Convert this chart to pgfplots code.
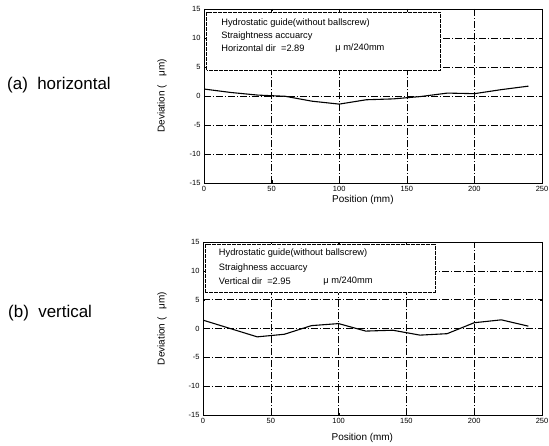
\documentclass[border=0pt]{standalone}
\usepackage{fontspec}
\setmainfont{Liberation Sans}
\usepackage{pgfplots}
\pgfplotsset{compat=1.18}

\pgfplotsset{
  devstyle/.style={
    scale only axis,
    xmin=0, xmax=250, ymin=-15, ymax=15,
    xtick={0,50,...,250}, ytick={-15,-10,...,15},
    grid=major,
    grid style={black, line width=0.35pt, dash pattern=on 7pt off 2pt on 1pt off 2pt},
    axis line style={black, line width=0.6pt},
    tick style={black}, tick align=inside, major tick length=2.5pt,
    ticklabel style={font=\fontsize{7.5}{9}\selectfont},
    /pgf/number format/assume math mode=true,
    xlabel={Position (mm)},
    ylabel={Deviation (\ \ \ μm)},
    label style={font=\fontsize{10}{12}\selectfont},
  },
}
\tikzset{infotext/.style={font=\fontsize{9.3}{11}\selectfont, anchor=west, inner sep=0pt}}

\begin{document}
\begin{tikzpicture}[x=1bp,y=1bp]
\useasboundingbox (0,0) rectangle (549,446);

\node[font=\fontsize{17}{20}\selectfont, anchor=west, inner sep=0pt] at (7,361) {(a)\ \ horizontal};
\node[font=\fontsize{17}{20}\selectfont, anchor=west, inner sep=0pt] at (8,133) {(b)\ \ vertical};

% (a) horizontal
\begin{axis}[devstyle,
  at={(204bp,263bp)}, anchor=south west,
  width=338bp, height=174bp,
  xlabel style={at={(axis description cs:0.47,-0.1)}, anchor=center},
  ylabel style={at={(axis description cs:-0.124,0.5)}, anchor=center},
]
  \draw[black, line width=0.5pt, dash pattern=on 4pt off 1pt, fill=white]
    (axis cs:2,4.4) rectangle (axis cs:175,14.4);
  \node[infotext] at (axis cs:12.7,12.6) {Hydrostatic guide(without ballscrew)};
  \node[infotext] at (axis cs:12.7,10.4) {Straightness accuarcy};
  \node[infotext] at (axis cs:12.7,8.3) {Horizontal dir \ =2.89};
  \node[infotext] at (axis cs:97,8.3) {μ m/240mm};
  \addplot[black, line width=1.1pt] coordinates {
    (0,1.2) (20,0.6) (40,0.15) (60,-0.05) (80,-0.9) (100,-1.4)
    (120,-0.65) (140,-0.5) (160,-0.1) (180,0.5) (200,0.4)
    (220,1.1) (240,1.7)
  };
\end{axis}

% (b) vertical
\begin{axis}[devstyle,
  at={(203bp,31bp)}, anchor=south west,
  width=339bp, height=173bp,
  xlabel style={at={(axis description cs:0.47,-0.133)}, anchor=center},
  ylabel style={at={(axis description cs:-0.121,0.5)}, anchor=center},
]
  \draw[black, line width=0.5pt, dash pattern=on 4pt off 1pt, fill=white]
    (axis cs:2,6.2) rectangle (axis cs:171,14.6);
  \node[infotext] at (axis cs:11.6,13) {Hydrostatic guide(without ballscrew)};
  \node[infotext] at (axis cs:11.6,10.5) {Straighness accuarcy};
  \node[infotext] at (axis cs:11.6,8.2) {Vertical dir \ =2.95};
  \node[infotext] at (axis cs:88.7,8.2) {μ m/240mm};
  \addplot[black, line width=1.1pt] coordinates {
    (0,1.45) (20,0) (40,-1.45) (60,-1.0) (80,0.5) (100,0.85)
    (120,-0.45) (140,-0.3) (160,-1.15) (180,-0.9) (200,1.0)
    (220,1.5) (240,0.4)
  };
\end{axis}
\end{tikzpicture}
\end{document}
